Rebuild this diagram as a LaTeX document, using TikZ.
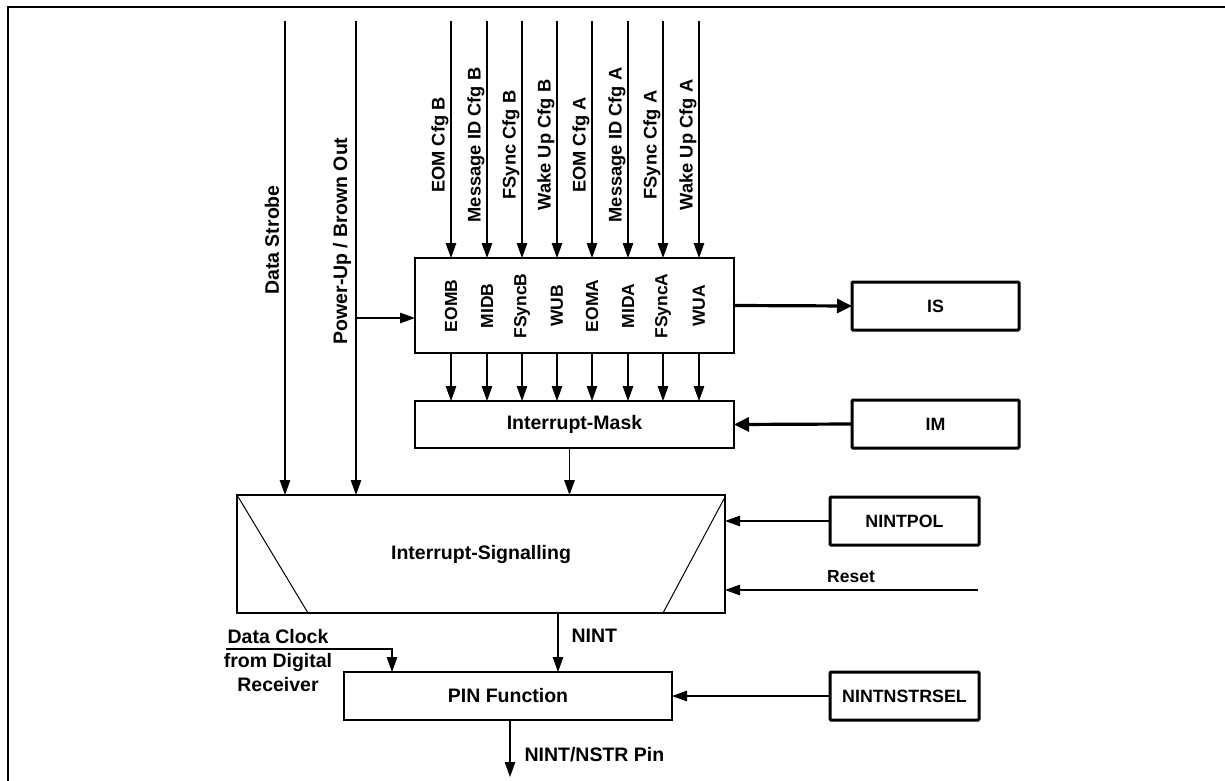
\documentclass[tikz,border=0pt]{standalone}
\usepackage{fontspec}
\setmainfont{Liberation Sans}
\usetikzlibrary{arrows.meta}
\begin{document}
\begin{tikzpicture}[x=1pt,y=-1pt,
  font=\fontsize{19.5}{23}\selectfont\bfseries,
  arr/.style={-{Triangle[length=15pt,width=10.5pt]}, line width=1.2pt},
  tharr/.style={-{Triangle[length=15pt,width=14pt]}, line width=3.2pt},
  blk/.style={draw, line width=1.4pt, inner sep=0pt, outer sep=0pt, anchor=north west},
  regbox/.style={draw, line width=3pt, rounded corners=1pt, inner sep=0pt, outer sep=0pt,
    anchor=north west, minimum width=167pt, minimum height=48pt,
    font=\fontsize{17.8}{20}\selectfont\bfseries},
  cfg/.style={rotate=90, font=\fontsize{18.3}{21}\selectfont\bfseries},
  bit/.style={rotate=90, font=\fontsize{17.5}{20}\selectfont\bfseries},
  small/.style={font=\fontsize{17.5}{20}\selectfont\bfseries}]
\useasboundingbox (0,0) rectangle (1225,781);
% frame
\draw[line width=1.5pt] (8,781) -- (8,7) -- (1225,7);

% blocks
\node[blk, minimum width=319pt, minimum height=95pt] (reg) at (415,258) {};
\node[blk, minimum width=319pt, minimum height=47pt] (mask) at (415,401) {Interrupt-Mask};
\node[blk, minimum width=488pt, minimum height=118pt] (sig) at (237,495) {Interrupt-Signalling};
\node[blk, minimum width=328pt, minimum height=48pt] (pin) at (344,672) {PIN Function};
\node[regbox] (is) at (852,282) {IS};
\node[regbox] (im) at (852,400) {IM};
\node[regbox, minimum width=149pt] (pol) at (830,497) {NINTPOL};
\node[regbox, minimum width=149pt] (sel) at (830,672) {NINTNSTRSEL};

% diagonals in signalling block
\draw[line width=1pt] (sig.north west) -- ([xshift=71pt]sig.south west);
\draw[line width=1pt] ([yshift=-2pt]sig.north east) -- ([xshift=-62pt]sig.south east);

% configuration inputs and status bits
\foreach \x/\top/\lab [count=\i] in {451/EOM Cfg B/EOMB, 487/Message ID Cfg B/MIDB,
    522/FSync Cfg B/FSyncB, 557/Wake Up Cfg B/WUB, 592/EOM Cfg A/EOMA,
    628/Message ID Cfg A/MIDA, 663/FSync Cfg A/FSyncA, 699/Wake Up Cfg A/WUA} {
  \coordinate (t\i) at (\x,21);
  \node[cfg] (lt\i) at (\x-11,145) {\top};
  \node[bit] (lr\i) at (\x,306) {\lab};
  \draw[arr] (t\i) -- (t\i |- reg.north);
  \draw[arr] (reg.south -| t\i) -- (mask.north -| t\i);
}

% data strobe and power-up
\coordinate (ds) at (285,21);
\coordinate (pu) at (356,21);
\node[rotate=90] (dsl) at (272,240) {Data Strobe};
\node[rotate=90] (pul) at (342,241) {Power-Up / Brown Out};
\draw[arr] (ds) -- (ds |- sig.north);
\draw[arr] (pu) -- (pu |- sig.north);
\coordinate (pw) at ([yshift=-12.5pt]reg.west);
\draw[arr] (pu |- pw) -- (pw);

% register links
\draw[tharr] (reg.east) -- (is.west);
\draw[tharr] (im.west) -- (mask.east);
\coordinate (ms) at ([xshift=-5pt]mask.south);
\draw[arr] (ms) -- (ms |- sig.north);
\draw[arr] (pol.west) -- (pol.west -| sig.east);
\coordinate (rs) at (978,590);
\draw[arr] (rs) -- (rs -| sig.east);
\node[small] (rsl) at (851,577) {Reset};

% NINT
\coordinate (ni) at ([xshift=77pt]sig.south);
\draw[arr] (ni) -- (ni |- pin.north);
\node[anchor=west] (nil) at (568,636) {NINT};

% data clock
\coordinate (dc) at (226,649);
\coordinate (dcin) at ([xshift=48pt]pin.north west);
\draw[arr] (dc) -| (dcin);
\node[align=center, font=\fontsize{19.5}{24}\selectfont\bfseries] (dcl) at (278,661) {Data Clock\\from Digital\\Receiver};

% pin function
\draw[arr] (sel.west) -- (sel.west -| pin.east);
\coordinate (out) at ([xshift=2pt,yshift=-57pt]pin.south);
\draw[arr] ([xshift=2pt]pin.south) -- (out);
\node[anchor=west] (outl) at (521,755) {NINT/NSTR Pin};
\end{tikzpicture}
\end{document}
